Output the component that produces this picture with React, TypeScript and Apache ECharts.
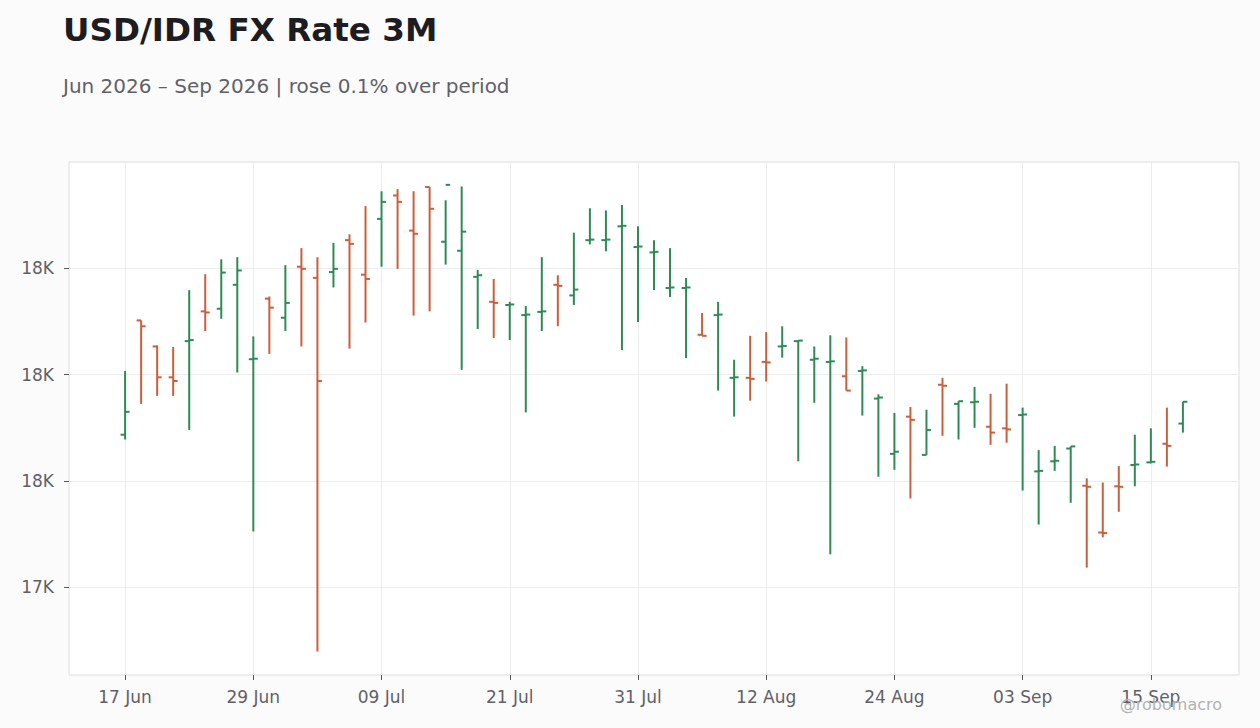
import { useEffect, useRef } from 'react';
import * as echarts from 'echarts';

// business days, 17 Jun 2026 - 17 Sep 2026
const dates = [
  '2026-06-17', '2026-06-18', '2026-06-19', '2026-06-22', '2026-06-23', '2026-06-24', '2026-06-25', '2026-06-26',
  '2026-06-29', '2026-06-30', '2026-07-01', '2026-07-02', '2026-07-03', '2026-07-06', '2026-07-07', '2026-07-08',
  '2026-07-09', '2026-07-10', '2026-07-13', '2026-07-14', '2026-07-15', '2026-07-16', '2026-07-17', '2026-07-20',
  '2026-07-21', '2026-07-22', '2026-07-23', '2026-07-24', '2026-07-27', '2026-07-28', '2026-07-29', '2026-07-30',
  '2026-07-31', '2026-08-03', '2026-08-04', '2026-08-05', '2026-08-06', '2026-08-07', '2026-08-10', '2026-08-11',
  '2026-08-12', '2026-08-13', '2026-08-14', '2026-08-17', '2026-08-18', '2026-08-19', '2026-08-20', '2026-08-21',
  '2026-08-24', '2026-08-25', '2026-08-26', '2026-08-27', '2026-08-28', '2026-08-31', '2026-09-01', '2026-09-02',
  '2026-09-03', '2026-09-04', '2026-09-07', '2026-09-08', '2026-09-09', '2026-09-10', '2026-09-11', '2026-09-14',
  '2026-09-15', '2026-09-16', '2026-09-17',
];

const opens = [
  17687, 17902, 17853, 17795, 17863, 17919, 17924, 17969, 17829, 17943,
  17907, 18003, 17982, 17993, 18053, 17988, 18093, 18137, 18071, 18153,
  18050, 18033, 17984, 17937, 17931, 17912, 17918, 17969, 17949, 18053,
  18053, 18079, 18040, 18030, 17963, 17963, 17875, 17912, 17794, 17794,
  17824, 17853, 17863, 17828, 17824, 17797, 17807, 17755, 17651, 17721,
  17649, 17781, 17745, 17748, 17702, 17699, 17724, 17618, 17637, 17661,
  17591, 17503, 17590, 17630, 17635, 17670, 17708,
];
const highs = [
  17807, 17902, 17855, 17852, 17959, 17989, 18017, 18021, 17872, 17947,
  18006, 18038, 18021, 18048, 18064, 18117, 18145, 18149, 18145, 18153,
  18128, 18154, 17997, 17980, 17937, 17929, 18021, 17987, 18067, 18113,
  18109, 18119, 18079, 18053, 18038, 17982, 17916, 17937, 17828, 17873,
  17880, 17891, 17864, 17853, 17874, 17870, 17816, 17763, 17728, 17739,
  17734, 17794, 17750, 17777, 17764, 17783, 17738, 17658, 17666, 17665,
  17605, 17597, 17628, 17687, 17699, 17738, 17749,
];
const lows = [
  17678, 17745, 17760, 17760, 17696, 17882, 17905, 17804, 17505, 17839,
  17882, 17853, 17279, 17964, 17849, 17898, 18003, 17999, 17911, 17919,
  18007, 17809, 17886, 17869, 17865, 17729, 17882, 17891, 17931, 18045,
  18032, 17846, 17899, 17959, 17946, 17831, 17873, 17770, 17721, 17751,
  17787, 17832, 17637, 17747, 17462, 17770, 17723, 17608, 17621, 17567,
  17649, 17685, 17678, 17700, 17668, 17672, 17582, 17518, 17619, 17559,
  17437, 17494, 17542, 17590, 17633, 17627, 17691,
];
const closes = [
  17730, 17891, 17795, 17788, 17865, 17917, 17992, 17996, 17830, 17926,
  17935, 17999, 17788, 17999, 18046, 17980, 18125, 18125, 18065, 18112,
  18157, 18069, 17987, 17935, 17932, 17913, 17919, 17967, 17960, 18054,
  18054, 18080, 18041, 18031, 17964, 17964, 17873, 17913, 17795, 17792,
  17823, 17854, 17864, 17830, 17825, 17770, 17808, 17757, 17655, 17715,
  17696, 17779, 17750, 17749, 17691, 17697, 17725, 17619, 17638, 17665,
  17589, 17502, 17589, 17631, 17636, 17666, 17749,
];

const yTicks = [17400, 17600, 17800, 18000];
const xTicks = [0, 8, 16, 24, 32, 40, 48, 56, 64];
const MONTHS = ['Jan', 'Feb', 'Mar', 'Apr', 'May', 'Jun', 'Jul', 'Aug', 'Sep', 'Oct', 'Nov', 'Dec'];

const UP = '#2e8b57';
const DOWN = '#c9603c';
const FONT = 'DejaVu Sans';

const fmtDate = (s: string) => {
  const [, m, d] = s.split('-');
  return `${d} ${MONTHS[Number(m) - 1]}`;
};

export default function App() {
  const chartRef = useRef<HTMLDivElement>(null);

  useEffect(() => {
    if (!chartRef.current) return;
    const chart = echarts.init(chartRef.current, null, { renderer: 'svg' });

    const first = closes[0];
    const last = closes[closes.length - 1];
    const pct = ((last - first) / first) * 100;
    const subtitle = `Jun 2026 – Sep 2026 | ${pct >= 0 ? 'rose' : 'fell'} ${Math.abs(pct).toFixed(1)}% over period`;

    const option: echarts.EChartsOption = {
      animation: false,
      backgroundColor: '#fbfbfb',
      textStyle: { fontFamily: FONT },
      title: [
        {
          text: 'USD/IDR FX Rate 3M',
          left: 63,
          top: 13,
          padding: 0,
          textStyle: { fontSize: 32.6, fontWeight: 'bold', color: '#1c1c21', fontFamily: FONT },
        },
        {
          text: subtitle,
          left: 63,
          top: 76,
          padding: 0,
          textStyle: { fontSize: 20, fontWeight: 'normal', color: '#5f6169', fontFamily: FONT },
        },
      ],
      grid: {
        left: 69,
        right: 21,
        top: 162,
        bottom: 53,
        show: true,
        backgroundColor: '#ffffff',
        borderColor: '#dedede',
        borderWidth: 1,
      },
      xAxis: {
        type: 'value',
        min: -3.5,
        max: dates.length + 2.5,
        axisLine: { show: false, onZero: false },
        axisTick: {
          show: true,
          length: 5,
          lineStyle: { color: '#55575d' },
          customValues: xTicks,
        },
        axisLabel: {
          customValues: xTicks,
          color: '#5f6169',
          fontSize: 17,
          margin: 13,
          formatter: (v: number) => fmtDate(dates[Math.round(v)] ?? ''),
        },
        splitLine: { show: true, lineStyle: { color: '#ececec', width: 1 } },
      },
      yAxis: {
        type: 'value',
        min: 17235,
        max: 18200,
        axisLine: { show: false, onZero: false },
        axisTick: {
          show: true,
          length: 5,
          lineStyle: { color: '#55575d' },
          customValues: yTicks,
        },
        axisLabel: {
          customValues: yTicks,
          color: '#5f6169',
          fontSize: 17,
          margin: 15,
          formatter: (v: number) => `${Math.round(v / 1000)}K`,
        },
        splitLine: { show: true, lineStyle: { color: '#ececec', width: 1 } },
      },
      graphic: [
        {
          type: 'text',
          right: 38,
          top: 696,
          z: 100,
          style: { text: '@robomacro', fontSize: 16, fill: '#b2b2b2', fontFamily: FONT },
        },
      ],
      series: [
        {
          type: 'custom',
          encode: { x: 0, y: [1, 2, 3, 4] },
          data: dates.map((_, i) => [i, opens[i], highs[i], lows[i], closes[i]]),
          renderItem: (_params: any, api: any) => {
            const x = api.value(0);
            const o = api.value(1);
            const h = api.value(2);
            const l = api.value(3);
            const c = api.value(4);
            const pH = api.coord([x, h]);
            const pL = api.coord([x, l]);
            const pO = api.coord([x, o]);
            const pC = api.coord([x, c]);
            const color = c >= o ? UP : DOWN;
            const style = { stroke: color, lineWidth: 2 };
            const w = 4.5;
            return {
              type: 'group',
              children: [
                { type: 'line', shape: { x1: pH[0], y1: pH[1], x2: pL[0], y2: pL[1] }, style },
                { type: 'line', shape: { x1: pO[0] - w, y1: pO[1], x2: pO[0], y2: pO[1] }, style },
                { type: 'line', shape: { x1: pC[0], y1: pC[1], x2: pC[0] + w, y2: pC[1] }, style },
              ],
            };
          },
        },
      ],
    };

    chart.setOption(option);

    const handleResize = () => chart.resize();
    window.addEventListener('resize', handleResize);
    return () => {
      window.removeEventListener('resize', handleResize);
      chart.dispose();
    };
  }, []);

  return (
    <div
      ref={chartRef}
      style={{ position: 'fixed', left: 0, top: 0, width: '100vw', height: '100vh' }}
    ></div>
  );
}
